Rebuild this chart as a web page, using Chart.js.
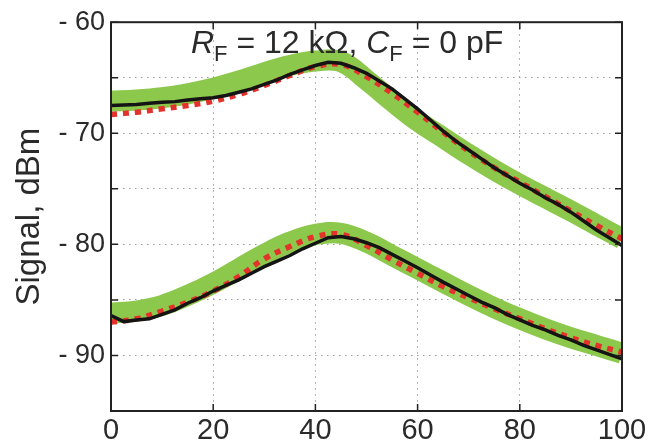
<!DOCTYPE html>
<html>
<head>
<meta charset="utf-8">
<script src="https://cdn.jsdelivr.net/npm/chart.js@4.4.0/dist/chart.umd.min.js"></script>
<style>
  html, body { margin: 0; padding: 0; background: #fff; }
</style>
</head>
<body>
<canvas id="chart" width="651" height="447"></canvas>
<script>
// model curves (green band + red dotted), read every 5 units of x
const xModel = [0, 5, 10, 15, 20, 25, 30, 35, 40, 45, 50, 55, 60, 65, 70, 75, 80, 85, 90, 95, 100];
const upperGreen = [-67.1, -67.0, -66.8, -66.45, -65.95, -65.3, -64.55, -63.9, -63.5, -63.55, -65.2, -67.1, -68.9, -70.4, -71.9, -73.3, -74.6, -75.8, -77.0, -78.25, -79.5];
const upperRed = [-68.3, -68.1, -67.8, -67.5, -67.1, -66.5, -65.7, -64.8, -64.0, -63.8, -64.9, -66.4, -68.1, -69.9, -71.6, -73.1, -74.4, -75.7, -77.0, -78.3, -79.5];
const lowerGreen = [-86.2, -86.0, -85.5, -84.6, -83.5, -82.2, -80.9, -79.8, -79.1, -79.0, -79.8, -81.0, -82.2, -83.4, -84.6, -85.7, -86.7, -87.6, -88.4, -89.1, -89.8];
const lowerRed = [-87.0, -86.7, -86.0, -85.2, -84.2, -82.9, -81.3, -80.2, -79.3, -79.1, -80.1, -81.4, -82.6, -83.8, -84.8, -85.8, -86.7, -87.6, -88.4, -89.1, -89.7];

// measured curves (black), read every 2.5 units of x
const xMeas = [0, 2.5, 5, 7.5, 10, 12.5, 15, 17.5, 20, 22.5, 25, 27.5, 30, 32.5, 35, 37.5, 40, 42.5, 45, 47.5, 50,
  52.5, 55, 57.5, 60, 62.5, 65, 67.5, 70, 72.5, 75, 77.5, 80, 82.5, 85, 87.5, 90, 92.5, 95, 97.5, 100];
const upperBlack = [-67.5, -67.45, -67.4, -67.3, -67.2, -67.15, -67.0, -66.9, -66.8, -66.6, -66.3, -66.0, -65.6, -65.2, -64.7, -64.3, -63.9, -63.6, -63.7, -64.1, -64.6,
  -65.3, -66.0, -66.9, -67.8, -68.8, -69.8, -70.7, -71.5, -72.3, -73.1, -73.8, -74.5, -75.1, -75.8, -76.4, -77.1, -77.9, -78.7, -79.4, -80.1];
const lowerBlack = [-86.4, -86.95, -86.8, -86.7, -86.3, -85.9, -85.3, -84.8, -84.2, -83.7, -83.2, -82.6, -82.0, -81.5, -81.0, -80.4, -79.9, -79.4, -79.3, -79.5, -79.85,
  -80.3, -80.9, -81.5, -82.1, -82.75, -83.4, -84.0, -84.6, -85.2, -85.7, -86.3, -86.8, -87.3, -87.7, -88.2, -88.6, -89.1, -89.5, -89.9, -90.3];

const xTicks = [0, 20, 40, 60, 80, 100];
const yTicks = [-95, -90, -85, -80, -75, -70, -65, -60];

const GREEN = '#8cc84b';
const RED = '#e3312b';
const BLACK = '#141414';
const FONT = '"Liberation Sans", Arial, Helvetica, sans-serif';

const pts = (xs, ys) => xs.map((x, i) => ({ x: x, y: ys[i] }));

// higher order is drawn first, so green sits at the bottom and black on top
function band(ys) {
  return { data: pts(xModel, ys), borderColor: GREEN, borderWidth: 21, pointRadius: 0,
    tension: 0.4, borderCapStyle: 'butt', clip: 0, order: 3 };
}
function model(ys) {
  return { data: pts(xModel, ys), borderColor: RED, borderWidth: 5.5, borderDash: [6, 6],
    pointRadius: 0, tension: 0.4, borderCapStyle: 'butt', clip: 0, order: 2 };
}
function meas(ys) {
  return { data: pts(xMeas, ys), borderColor: BLACK, borderWidth: 3.5, pointRadius: 0,
    tension: 0, clip: 0, order: 1 };
}

// box round the plot with short inward tick marks
const framePlugin = {
  id: 'frame',
  afterDatasetsDraw(chart) {
    const { ctx, chartArea: a, scales } = chart;
    ctx.save();
    ctx.strokeStyle = '#222';
    ctx.lineWidth = 1.5;
    ctx.beginPath();
    yTicks.forEach(v => {
      const py = scales.y.getPixelForValue(v);
      ctx.moveTo(a.left, py); ctx.lineTo(a.left + 7, py);
      ctx.moveTo(a.right, py); ctx.lineTo(a.right - 7, py);
    });
    xTicks.forEach(v => {
      const px = scales.x.getPixelForValue(v);
      ctx.moveTo(px, a.bottom); ctx.lineTo(px, a.bottom - 7);
      ctx.moveTo(px, a.top); ctx.lineTo(px, a.top + 7);
    });
    ctx.stroke();
    ctx.lineWidth = 2;
    ctx.strokeRect(a.left, a.top, a.right - a.left, a.bottom - a.top);
    ctx.restore();
  }
};

// "RF = 12 kΩ, CF = 0 pF" with italic R, C and subscript F
const labelPlugin = {
  id: 'label',
  afterDraw(chart) {
    const ctx = chart.ctx;
    const parts = [
      { t: 'R', f: 'italic 32px ' + FONT, dy: 0 },
      { t: 'F', f: '22px ' + FONT, dy: 8 },
      { t: ' = 12 k\u03A9, ', f: '32px ' + FONT, dy: 0 },
      { t: 'C', f: 'italic 32px ' + FONT, dy: 0 },
      { t: 'F', f: '22px ' + FONT, dy: 8 },
      { t: ' = 0 pF', f: '32px ' + FONT, dy: 0 }
    ];
    ctx.save();
    ctx.fillStyle = '#2a2a2a';
    ctx.textBaseline = 'alphabetic';
    let x = 191;
    const y = 53;
    parts.forEach(p => {
      ctx.font = p.f;
      ctx.fillText(p.t, x, y + p.dy);
      x += ctx.measureText(p.t).width;
    });
    ctx.restore();
  }
};

new Chart(document.getElementById('chart'), {
  type: 'line',
  data: {
    datasets: [
      band(upperGreen), band(lowerGreen),
      model(upperRed), model(lowerRed),
      meas(upperBlack), meas(lowerBlack)
    ]
  },
  options: {
    responsive: false,
    animation: false,
    events: [],
    layout: { padding: { top: 20, right: 29, left: 0, bottom: 0 } },
    plugins: { legend: { display: false }, tooltip: { enabled: false } },
    scales: {
      x: {
        type: 'linear', min: 0, max: 100,
        afterBuildTicks: s => { s.ticks = xTicks.map(v => ({ value: v })); },
        afterFit: s => { s.height = 36; },
        grid: { color: '#9a9a9a', lineWidth: 1, drawTicks: false },
        border: { display: false, dash: [1.5, 4.5] },
        ticks: { color: '#2a2a2a', padding: 3, maxRotation: 0, font: { family: FONT, size: 29 } }
      },
      y: {
        type: 'linear', min: -95, max: -60,
        afterBuildTicks: s => { s.ticks = yTicks.map(v => ({ value: v })); },
        afterFit: s => { s.width = 111; },
        grid: { color: '#9a9a9a', lineWidth: 1, drawTicks: false },
        border: { display: false, dash: [1.5, 4.5] },
        ticks: {
          color: '#2a2a2a', padding: 6, font: { family: FONT, size: 27 },
          callback: v => (v % 10 === 0 ? '- ' + Math.abs(v) : '')
        },
        title: {
          display: true, text: 'Signal, dBm', color: '#2a2a2a',
          font: { family: FONT, size: 33 }, padding: { top: 10, bottom: 0 }
        }
      }
    }
  },
  plugins: [framePlugin, labelPlugin]
});
</script>
</body>
</html>
